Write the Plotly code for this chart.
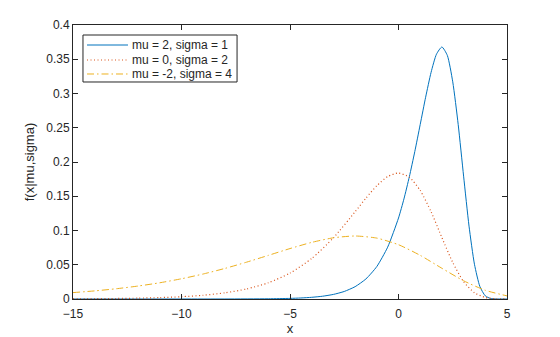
import plotly.graph_objects as go

# mu = 2, sigma = 1
x_blue = [-15, -10, -8, -6, -5, -4.5, -4, -3.5, -3, -2.5, -2, -1.5, -1, -0.5, 0, 0.25, 0.5, 0.75, 1,
          1.25, 1.5, 1.75, 2, 2.25, 2.5, 2.75, 3, 3.25, 3.5, 3.75, 4, 4.25, 4.5, 5]
y_blue = [0.0, 0.000006, 0.000045, 0.000335, 0.00091, 0.0015, 0.00247, 0.00406, 0.00669, 0.01099,
          0.01798, 0.0293, 0.04737, 0.07562, 0.1182, 0.14606, 0.17851, 0.21513, 0.25465,
          0.29453, 0.3307, 0.35744, 0.36788, 0.35559, 0.31704, 0.25493, 0.17937, 0.10641,
          0.05071, 0.01823, 0.004566, 0.000718, 0.000062, 0.0]

# mu = 0, sigma = 2
x_red = [-15, -14, -13, -12, -11, -10, -9, -8, -7, -6, -5, -4, -3, -2, -1.5, -1, -0.5, 0,
         0.5, 1, 1.5, 2, 2.5, 3, 3.5, 4, 4.5, 5]
y_red = [0.000276, 0.000455, 0.000751, 0.001236, 0.002035, 0.003346, 0.005493, 0.00899, 0.01465,
         0.023685, 0.03781, 0.0591, 0.089255, 0.127325, 0.147265, 0.16535, 0.17872, 0.18394,
         0.177795, 0.15852, 0.127465, 0.089685, 0.053205, 0.025355, 0.009115, 0.002283,
         0.000359, 0.000031]

# mu = -2, sigma = 4
x_yel = [-15, -14, -13, -12, -11, -10, -9, -8, -7, -6, -5, -4, -3, -2, -1, 0, 1, 2, 3, 4, 5]
y_yel = [0.009325, 0.011842, 0.014992, 0.018905, 0.023714, 0.02955, 0.036515, 0.044628, 0.053783,
         0.063663, 0.073633, 0.082675, 0.08936, 0.09197, 0.088898, 0.07926, 0.063733, 0.044843,
         0.026603, 0.012678, 0.004558]

names = ["mu = 2, sigma = 1", "mu = 0, sigma = 2", "mu = -2, sigma = 4"]
x_ticks = [-15, -10, -5, 0, 5]
y_ticks = [0, 0.05, 0.1, 0.15, 0.2, 0.25, 0.3, 0.35, 0.4]
y_tick_text = ["0", "0.05", "0.1", "0.15", "0.2", "0.25", "0.3", "0.35", "0.4"]

FONT = "Liberation Sans, Arial, Helvetica, sans-serif"
INK = "#262626"
colors = ["#0072BD", "#D95319", "#EDB120"]
dashes = ["solid", "1px,2.5px", "7px,3px,1.5px,3px"]
widths = [1, 1.2, 1]

fig = go.Figure()
for xs, ys, nm, c, d, w in zip([x_blue, x_red, x_yel], [y_blue, y_red, y_yel], names, colors, dashes, widths):
    fig.add_trace(go.Scatter(x=xs, y=ys, mode="lines", name=nm, showlegend=False,
                             line=dict(color=c, width=w, dash=d, shape="spline", smoothing=0.6)))

# Legend box (paper coordinates), drawn like the MATLAB legend
box = dict(x0=0.023, x1=0.378, y0=0.792, y1=0.9635)
row_y = [0.927, 0.8723, 0.8212]
fig.add_shape(type="rect", xref="paper", yref="paper", line=dict(color=INK, width=1),
              fillcolor="white", layer="above", **box)
for nm, c, d, w, ry in zip(names, colors, dashes, widths, row_y):
    fig.add_shape(type="line", xref="paper", yref="paper", x0=0.0323, x1=0.1267, y0=ry, y1=ry,
                  line=dict(color=c, width=w, dash=d), layer="above")
    fig.add_annotation(text=nm, xref="paper", yref="paper", x=0.1313, y=ry, xanchor="left",
                       yanchor="middle", showarrow=False, font=dict(family=FONT, size=12, color=INK))

axis_common = dict(showgrid=False, zeroline=False, showline=True, linecolor=INK, linewidth=1,
                   mirror="ticks", ticks="inside", ticklen=5, tickcolor=INK, automargin=False,
                   tickfont=dict(family=FONT, size=12, color=INK))
fig.update_xaxes(range=[-15, 5], tickvals=x_ticks, ticklabelstandoff=4,
                 title=dict(text="x", standoff=2, font=dict(family=FONT, size=13, color=INK)), **axis_common)
fig.update_yaxes(range=[0, 0.4], tickvals=y_ticks, ticktext=y_tick_text,
                 title=dict(text="f(x|mu,sigma)", standoff=8, font=dict(family=FONT, size=13, color=INK)),
                 **axis_common)
fig.update_layout(
    width=560, height=337, margin=dict(l=73, r=53, t=25, b=38),
    plot_bgcolor="white", paper_bgcolor="white", showlegend=False,
)
fig.write_html("out.html")
